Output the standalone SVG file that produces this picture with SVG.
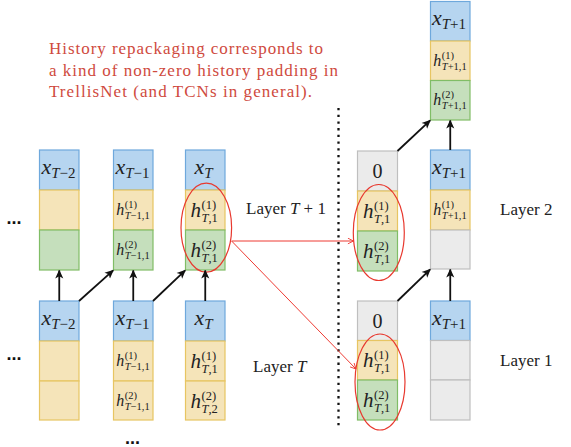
<svg xmlns="http://www.w3.org/2000/svg" width="571" height="447" viewBox="0 0 571 447">
<style>
.b{fill:#b6d5f0;stroke:#6ea8dc;stroke-width:1.2}
.y{fill:#f5e4b9;stroke:#e7c562;stroke-width:1.2}
.g{fill:#c5dfbc;stroke:#80bd66;stroke-width:1.2}
.e{fill:#ebebeb;stroke:#bfbfbf;stroke-width:1.2}
.mx{font-size:22px;font-style:italic;fill:#222}
.sb{font-size:15px;font-style:normal}
.it{font-style:italic}
.hb{font-size:21px;font-style:italic;fill:#222}
.hbs{font-size:12.5px;fill:#222}
.hs{font-size:16px;font-style:italic;fill:#222}
.hss{font-size:10.5px;fill:#222}
.z{font-size:20px;text-anchor:middle;fill:#222}
.lay{font-size:17px;fill:#222}
.note{font-size:17px;fill:#cf4a3e}
.dots{font-weight:bold;font-size:18px;fill:#111}
.ar{stroke:#111;stroke-width:1.8;fill:none;marker-end:url(#ah)}
.rr{stroke:#ee3b33;stroke-width:1;fill:none;marker-end:url(#rh)}
.el{fill:none;stroke:#e8392f;stroke-width:1.2}
</style>
<defs>
<marker id="ah" viewBox="0 0 10 10" refX="9" refY="5" markerWidth="5" markerHeight="5" orient="auto" markerUnits="strokeWidth">
<path d="M0,0.5 L10,5 L0,9.5 L2.5,5 z" fill="#111"/>
</marker>
<marker id="rh" viewBox="0 0 10 10" refX="9" refY="5" markerWidth="7" markerHeight="7" orient="auto" markerUnits="strokeWidth">
<path d="M1,1 L9,5 L1,9" fill="none" stroke="#ee3b33" stroke-width="1.3"/>
</marker>
</defs>

<g id="note">
<text font-family="Liberation Serif" class="note" x="49" y="54" textLength="274" lengthAdjust="spacing">History repackaging corresponds to</text>
<text font-family="Liberation Serif" class="note" x="49" y="75.5" textLength="289" lengthAdjust="spacing">a kind of non-zero history padding in</text>
<text font-family="Liberation Serif" class="note" x="49" y="97" textLength="263" lengthAdjust="spacing">TrellisNet (and TCNs in general).</text>
</g>

<g id="dots">
<text font-family="Liberation Sans" class="dots" x="6.5" y="224">...</text>
<text font-family="Liberation Sans" class="dots" x="6.5" y="360">...</text>
<text font-family="Liberation Sans" class="dots" x="125" y="444">...</text>
</g>

<line x1="338.5" y1="108" x2="338.5" y2="426" stroke="#111" stroke-width="2.3" stroke-dasharray="2.3 4.4"/>

<g id="labels">
<text font-family="Liberation Serif" class="lay" x="246" y="214">Layer <tspan class="it">T</tspan> + 1</text>
<text font-family="Liberation Serif" class="lay" x="253" y="372">Layer <tspan class="it">T</tspan></text>
<text font-family="Liberation Serif" class="lay" x="500" y="215">Layer 2</text>
<text font-family="Liberation Serif" class="lay" x="500" y="366">Layer 1</text>
</g>

<g id="uL1">
<rect class="b" x="39.5" y="150" width="39.5" height="40"/>
<rect class="y" x="39.5" y="190" width="39.5" height="40"/>
<rect class="g" x="39.5" y="230" width="39.5" height="40"/>
<text font-family="Liberation Serif" class="mx" x="41.5" y="174">x<tspan class="sb" dy="4"><tspan class="it">T</tspan>−2</tspan></text>
</g>
<g id="uL2">
<rect class="b" x="113.5" y="150" width="39.5" height="40"/>
<rect class="y" x="113.5" y="190" width="39.5" height="40"/>
<rect class="g" x="113.5" y="230" width="39.5" height="40"/>
<text font-family="Liberation Serif" class="mx" x="115.5" y="174">x<tspan class="sb" dy="4"><tspan class="it">T</tspan>−1</tspan></text>
<text font-family="Liberation Serif" class="hs" x="116.3" y="215">h</text><text font-family="Liberation Serif" class="hss" x="124.8" y="208">(1)</text><text font-family="Liberation Serif" class="hss" x="124.8" y="219"><tspan class="it">T</tspan>−1,1</text>
<text font-family="Liberation Serif" class="hs" x="116.3" y="255">h</text><text font-family="Liberation Serif" class="hss" x="124.8" y="248">(2)</text><text font-family="Liberation Serif" class="hss" x="124.8" y="259"><tspan class="it">T</tspan>−1,1</text>
</g>
<g id="uL3">
<rect class="b" x="185.5" y="150" width="39.5" height="40"/>
<rect class="y" x="185.5" y="190" width="39.5" height="40"/>
<rect class="g" x="185.5" y="230" width="39.5" height="40"/>
<text font-family="Liberation Serif" class="mx" x="194.5" y="174">x<tspan class="sb it" dy="4">T</tspan></text>
<text font-family="Liberation Serif" class="hb" x="190.5" y="217">h</text><text font-family="Liberation Serif" class="hbs" x="201.5" y="209">(1)</text><text font-family="Liberation Serif" class="hbs" x="201.5" y="222"><tspan class="it">T</tspan>,1</text>
<text font-family="Liberation Serif" class="hb" x="190.5" y="257">h</text><text font-family="Liberation Serif" class="hbs" x="201.5" y="249">(2)</text><text font-family="Liberation Serif" class="hbs" x="201.5" y="262"><tspan class="it">T</tspan>,1</text>
</g>

<g id="lL1">
<rect class="b" x="39.5" y="301" width="39.5" height="40"/>
<rect class="y" x="39.5" y="341" width="39.5" height="40"/>
<rect class="y" x="39.5" y="381" width="39.5" height="39"/>
<text font-family="Liberation Serif" class="mx" x="41.5" y="325">x<tspan class="sb" dy="4"><tspan class="it">T</tspan>−2</tspan></text>
</g>
<g id="lL2">
<rect class="b" x="113.5" y="301" width="39.5" height="40"/>
<rect class="y" x="113.5" y="341" width="39.5" height="40"/>
<rect class="y" x="113.5" y="381" width="39.5" height="39"/>
<text font-family="Liberation Serif" class="mx" x="115.5" y="325">x<tspan class="sb" dy="4"><tspan class="it">T</tspan>−1</tspan></text>
<text font-family="Liberation Serif" class="hs" x="116.3" y="366">h</text><text font-family="Liberation Serif" class="hss" x="124.8" y="359">(1)</text><text font-family="Liberation Serif" class="hss" x="124.8" y="370"><tspan class="it">T</tspan>−1,1</text>
<text font-family="Liberation Serif" class="hs" x="116.3" y="405.5">h</text><text font-family="Liberation Serif" class="hss" x="124.8" y="398.5">(2)</text><text font-family="Liberation Serif" class="hss" x="124.8" y="409.5"><tspan class="it">T</tspan>−1,1</text>
</g>
<g id="lL3">
<rect class="b" x="185.5" y="301" width="39.5" height="40"/>
<rect class="y" x="185.5" y="341" width="39.5" height="40"/>
<rect class="y" x="185.5" y="381" width="39.5" height="39"/>
<text font-family="Liberation Serif" class="mx" x="194.5" y="325">x<tspan class="sb it" dy="4">T</tspan></text>
<text font-family="Liberation Serif" class="hb" x="190.5" y="368">h</text><text font-family="Liberation Serif" class="hbs" x="201.5" y="360">(1)</text><text font-family="Liberation Serif" class="hbs" x="201.5" y="373"><tspan class="it">T</tspan>,1</text>
<text font-family="Liberation Serif" class="hb" x="190.5" y="407.5">h</text><text font-family="Liberation Serif" class="hbs" x="201.5" y="399.5">(2)</text><text font-family="Liberation Serif" class="hbs" x="201.5" y="412.5"><tspan class="it">T</tspan>,2</text>
</g>

<g id="rA_up">
<rect class="e" x="357.5" y="151" width="40" height="40"/>
<rect class="y" x="357.5" y="191" width="40" height="40"/>
<rect class="g" x="357.5" y="231" width="40" height="40"/>
<text font-family="Liberation Serif" class="z" x="377.5" y="178">0</text>
<text font-family="Liberation Serif" class="hb" x="363" y="218">h</text><text font-family="Liberation Serif" class="hbs" x="374" y="210">(1)</text><text font-family="Liberation Serif" class="hbs" x="374" y="223"><tspan class="it">T</tspan>,1</text>
<text font-family="Liberation Serif" class="hb" x="363" y="258">h</text><text font-family="Liberation Serif" class="hbs" x="374" y="250">(2)</text><text font-family="Liberation Serif" class="hbs" x="374" y="263"><tspan class="it">T</tspan>,1</text>
</g>
<g id="rB_up">
<rect class="b" x="430.5" y="150" width="39.5" height="40"/>
<rect class="y" x="430.5" y="190" width="39.5" height="40"/>
<rect class="e" x="430.5" y="230" width="39.5" height="39"/>
<text font-family="Liberation Serif" class="mx" x="432" y="174">x<tspan class="sb" dy="4"><tspan class="it">T</tspan>+1</tspan></text>
<text font-family="Liberation Serif" class="hs" x="433.3" y="215">h</text><text font-family="Liberation Serif" class="hss" x="441.8" y="208">(1)</text><text font-family="Liberation Serif" class="hss" x="441.8" y="219"><tspan class="it">T</tspan>+1,1</text>
</g>
<g id="rB_top">
<rect class="b" x="430.5" y="1.5" width="39.5" height="39.5"/>
<rect class="y" x="430.5" y="41" width="39.5" height="39.5"/>
<rect class="g" x="430.5" y="80.5" width="39.5" height="39.5"/>
<text font-family="Liberation Serif" class="mx" x="432" y="25">x<tspan class="sb" dy="4"><tspan class="it">T</tspan>+1</tspan></text>
<text font-family="Liberation Serif" class="hs" x="433.3" y="65.5">h</text><text font-family="Liberation Serif" class="hss" x="441.8" y="58.5">(1)</text><text font-family="Liberation Serif" class="hss" x="441.8" y="69.5"><tspan class="it">T</tspan>+1,1</text>
<text font-family="Liberation Serif" class="hs" x="433.3" y="105">h</text><text font-family="Liberation Serif" class="hss" x="441.8" y="98">(2)</text><text font-family="Liberation Serif" class="hss" x="441.8" y="109"><tspan class="it">T</tspan>+1,1</text>
</g>
<g id="rA_low">
<rect class="e" x="357.5" y="301" width="40" height="39.5"/>
<rect class="y" x="357.5" y="340.5" width="40" height="39.5"/>
<rect class="g" x="357.5" y="380" width="40" height="40"/>
<text font-family="Liberation Serif" class="z" x="377.5" y="328">0</text>
<text font-family="Liberation Serif" class="hb" x="363" y="367">h</text><text font-family="Liberation Serif" class="hbs" x="374" y="359">(1)</text><text font-family="Liberation Serif" class="hbs" x="374" y="372"><tspan class="it">T</tspan>,1</text>
<text font-family="Liberation Serif" class="hb" x="363" y="407">h</text><text font-family="Liberation Serif" class="hbs" x="374" y="399">(2)</text><text font-family="Liberation Serif" class="hbs" x="374" y="412"><tspan class="it">T</tspan>,1</text>
</g>
<g id="rB_low">
<rect class="b" x="430.5" y="301" width="39.5" height="39.5"/>
<rect class="e" x="430.5" y="340.5" width="39.5" height="39.5"/>
<rect class="e" x="430.5" y="380" width="39.5" height="40"/>
<text font-family="Liberation Serif" class="mx" x="432" y="325">x<tspan class="sb" dy="4"><tspan class="it">T</tspan>+1</tspan></text>
</g>

<g id="highlights">
<ellipse class="el" cx="206.3" cy="227.7" rx="25.3" ry="44.5"/>
<ellipse class="el" cx="378.8" cy="232.5" rx="25.5" ry="48"/>
<ellipse class="el" cx="380" cy="382" rx="25" ry="48"/>
</g>

<g id="connectors">
<line class="ar" x1="59.25" y1="301" x2="59.25" y2="270.5"/>
<line class="ar" x1="79" y1="301" x2="113.2" y2="270.3"/>
<line class="ar" x1="133.25" y1="301" x2="133.25" y2="270.5"/>
<line class="ar" x1="153" y1="301" x2="185.2" y2="270.3"/>
<line class="ar" x1="205.25" y1="301" x2="205.25" y2="270.5"/>
<line class="ar" x1="397.5" y1="151" x2="430.2" y2="120.3"/>
<line class="ar" x1="450.25" y1="150" x2="450.25" y2="120.5"/>
<line class="ar" x1="397.5" y1="301" x2="430.2" y2="269.3"/>
<line class="ar" x1="450.25" y1="301" x2="450.25" y2="269.5"/>
<line class="rr" x1="231.6" y1="241" x2="353.5" y2="241"/>
<line class="rr" x1="231.6" y1="241" x2="356" y2="369"/>
</g>
</svg>
